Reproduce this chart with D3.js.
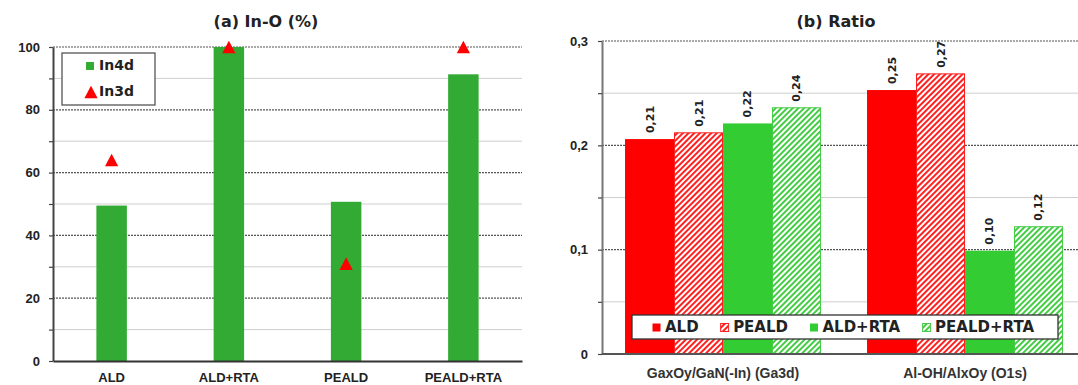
<!DOCTYPE html>
<html>
<head>
<meta charset="utf-8">
<script src="https://cdn.jsdelivr.net/npm/d3@7"></script>
<style>
body { margin: 0; background: #fff; }
svg { display: block; font-family: "DejaVu Sans", sans-serif; }
</style>
</head>
<body>
<svg id="chart" width="1078" height="385"></svg>
<script>
"use strict";

// (a) In-O (%)
var categoriesA = ["ALD", "ALD+RTA", "PEALD", "PEALD+RTA"];
var in4d = [49.5, 100, 50.7, 91.3];
var in3d = [64, 100, 31, 100];
var majorTicksA = [0, 20, 40, 60, 80, 100];
var minorTicksA = [10, 30, 50, 70, 90];

// (b) Ratio
var groupsB = ["GaxOy/GaN(-In) (Ga3d)", "Al-OH/AlxOy (O1s)"];
var seriesB = ["ALD", "PEALD", "ALD+RTA", "PEALD+RTA"];
var aldB = [0.206, 0.253];
var pealdB = [0.212, 0.2685];
var aldRtaB = [0.221, 0.099];
var pealdRtaB = [0.236, 0.122];
var majorTicksB = [0, 0.1, 0.2, 0.3];
var minorTicksB = [0.05, 0.15, 0.25];

var svg = d3.select("#chart");

// hatch patterns
var defs = svg.append("defs");
function hatch(id, color) {
    var p = defs.append("pattern").attr("id", id)
        .attr("patternUnits", "userSpaceOnUse")
        .attr("width", 4).attr("height", 4)
        .attr("patternTransform", "rotate(45)");
    p.append("rect").attr("width", 4).attr("height", 4).attr("fill", "#fff");
    p.append("line").attr("x1", 1).attr("y1", 0).attr("x2", 1).attr("y2", 4)
        .attr("stroke", color).attr("stroke-width", 2);
}
hatch("hatch-red", "#ff2020");
hatch("hatch-green", "#44cc44");

var styleB = {
    "ALD": { fill: "#ff0000", stroke: "none" },
    "PEALD": { fill: "url(#hatch-red)", stroke: "#ff2020" },
    "ALD+RTA": { fill: "#33cc33", stroke: "none" },
    "PEALD+RTA": { fill: "url(#hatch-green)", stroke: "#44cc44" }
};

function grid(g, y, x0, x1, major, minor) {
    g.selectAll(".minor").data(minor).enter().append("line")
        .attr("x1", x0).attr("x2", x1)
        .attr("y1", function (d) { return y(d); })
        .attr("y2", function (d) { return y(d); })
        .attr("stroke", "#cfcfcf").attr("stroke-width", 1);
    g.selectAll(".major").data(major.filter(function (d) { return d > 0; })).enter().append("line")
        .attr("x1", x0).attr("x2", x1)
        .attr("y1", function (d) { return y(d); })
        .attr("y2", function (d) { return y(d); })
        .attr("stroke", "#555").attr("stroke-width", 1.2)
        .attr("stroke-dasharray", "2,1");
}

function styleAxis(g, size) {
    g.select(".domain").attr("stroke", "#444").attr("stroke-width", 2);
    g.selectAll(".tick line").attr("stroke", "#444").attr("stroke-width", 1.2);
    g.selectAll("text").attr("fill", "#222")
        .style("font-size", size + "px").style("font-weight", "bold");
}

// ---------- chart (a) ----------
var xA = d3.scaleBand().domain(categoriesA).range([53, 522])
    .paddingInner(0.74).paddingOuter(0.37);
var yA = d3.scaleLinear().domain([0, 100]).range([361, 47]);

grid(svg.append("g"), yA, 53, 522, majorTicksA, minorTicksA);

svg.append("g").selectAll("rect").data(in4d).enter().append("rect")
    .attr("x", function (d, i) { return xA(categoriesA[i]); })
    .attr("y", function (d) { return yA(d); })
    .attr("width", xA.bandwidth())
    .attr("height", function (d) { return yA(0) - yA(d); })
    .attr("fill", "#33aa33");

var triangle = {
    draw: function (context, size) {
        var w = Math.sqrt(size) * 1.5, h = w * 0.95;
        context.moveTo(0, -h / 2);
        context.lineTo(w / 2, h / 2);
        context.lineTo(-w / 2, h / 2);
        context.closePath();
    }
};
var tri = d3.symbol().type(triangle).size(78);

svg.append("g").selectAll("path").data(in3d).enter().append("path")
    .attr("d", tri)
    .attr("transform", function (d, i) {
        return "translate(" + (xA(categoriesA[i]) + xA.bandwidth() / 2) + "," + yA(d) + ")";
    })
    .attr("fill", "#ff0000");

var gYA = svg.append("g").attr("transform", "translate(53,0)")
    .call(d3.axisLeft(yA).tickValues(majorTicksA).tickSize(4).tickSizeOuter(0).tickPadding(9));
styleAxis(gYA, 13);
var gYAm = svg.append("g").attr("transform", "translate(53,0)")
    .call(d3.axisLeft(yA).tickValues(minorTicksA).tickSize(4).tickFormat(""));
gYAm.select(".domain").remove();
styleAxis(gYAm, 13);

var gXA = svg.append("g").attr("transform", "translate(0," + yA(0) + ")")
    .call(d3.axisBottom(xA).tickSize(0).tickSizeOuter(0).tickPadding(12));
styleAxis(gXA, 13);
gXA.select(".domain").attr("stroke", "#333");

svg.append("text").attr("x", 266).attr("y", 22)
    .attr("text-anchor", "middle").attr("dominant-baseline", "middle")
    .style("font-size", "16px").style("font-weight", "bold").attr("fill", "#222")
    .text("(a) In-O (%)");

var legA = svg.append("g");
legA.append("rect").attr("x", 62).attr("y", 53).attr("width", 93).attr("height", 52)
    .attr("fill", "#fff").attr("stroke", "#555").attr("stroke-width", 1.3);
legA.append("rect").attr("x", 86).attr("y", 62).attr("width", 8).attr("height", 8)
    .attr("fill", "#33aa33");
legA.append("path").attr("d", tri).attr("transform", "translate(91,92)").attr("fill", "#ff0000");
legA.append("text").attr("x", 99).attr("y", 66).attr("dominant-baseline", "middle")
    .style("font-size", "14px").style("font-weight", "bold").attr("fill", "#222").text("In4d");
legA.append("text").attr("x", 99).attr("y", 92).attr("dominant-baseline", "middle")
    .style("font-size", "14px").style("font-weight", "bold").attr("fill", "#222").text("In3d");

// ---------- chart (b) ----------
var valuesB = [aldB, pealdB, aldRtaB, pealdRtaB];
var xB = d3.scaleBand().domain(groupsB).range([602, 1086]);
var xBi = d3.scaleBand().domain(seriesB).range([0, xB.bandwidth()]).paddingOuter(0.47);
var yB = d3.scaleLinear().domain([0, 0.3]).range([354, 41]);

grid(svg.append("g"), yB, 602, 1078, majorTicksB, minorTicksB);

var fmt = function (d) { return d3.format(".2f")(d).replace(".", ","); };
var barsB = svg.append("g");
seriesB.forEach(function (s, si) {
    valuesB[si].forEach(function (v, gi) {
        var x = xB(groupsB[gi]) + xBi(s);
        var w = xBi.bandwidth();
        var st = styleB[s];
        barsB.append("rect")
            .attr("x", x + (st.stroke === "none" ? 0 : 0.5))
            .attr("y", yB(v))
            .attr("width", w - (st.stroke === "none" ? 0 : 1))
            .attr("height", yB(0) - yB(v))
            .attr("fill", st.fill).attr("stroke", st.stroke).attr("stroke-width", 1);
        barsB.append("text")
            .attr("transform", "translate(" + (x + w / 2 + 1) + "," + (yB(v) - 6) + ") rotate(-90)")
            .attr("dominant-baseline", "middle")
            .style("font-size", "11px").style("font-weight", "bold").attr("fill", "#222")
            .text(fmt(v));
    });
});

var fmtB = function (d) { return d === 0 ? "0" : d3.format(".1f")(d).replace(".", ","); };
var gYB = svg.append("g").attr("transform", "translate(602,0)")
    .call(d3.axisLeft(yB).tickValues(majorTicksB).tickFormat(fmtB).tickSize(4).tickSizeOuter(0).tickPadding(10));
styleAxis(gYB, 13);
gYB.select(".domain").attr("stroke", "#777");
var gYBm = svg.append("g").attr("transform", "translate(602,0)")
    .call(d3.axisLeft(yB).tickValues(minorTicksB).tickSize(4).tickFormat(""));
gYBm.select(".domain").remove();
styleAxis(gYBm, 13);

var gXB = svg.append("g").attr("transform", "translate(0," + yB(0) + ")")
    .call(d3.axisBottom(xB).tickSize(0).tickSizeOuter(0).tickPadding(14));
styleAxis(gXB, 14);
gXB.select(".domain").attr("d", "M602,0H1078").attr("stroke", "#555");
gXB.selectAll("text").attr("fill", "#333");

svg.append("text").attr("x", 836).attr("y", 22)
    .attr("text-anchor", "middle").attr("dominant-baseline", "middle")
    .style("font-size", "16px").style("font-weight", "bold").attr("fill", "#222")
    .text("(b) Ratio");

var legB = svg.append("g");
legB.append("rect").attr("x", 632).attr("y", 315).attr("width", 426).attr("height", 24)
    .attr("fill", "#fff").attr("stroke", "#333").attr("stroke-width", 1.3);
var legOffset = 652;
seriesB.forEach(function (s) {
    var st = styleB[s];
    var item = legB.append("g").attr("transform", "translate(" + legOffset + ",327)");
    item.append("rect").attr("x", 0.5).attr("y", -3.5).attr("width", 8).attr("height", 8)
        .attr("fill", st.fill).attr("stroke", st.stroke);
    item.append("text").attr("x", 13).attr("dominant-baseline", "middle")
        .style("font-size", "15px").style("font-weight", "bold").attr("fill", "#222")
        .text(s);
    legOffset += item.node().getBBox().width + 22;
});
</script>
</body>
</html>
